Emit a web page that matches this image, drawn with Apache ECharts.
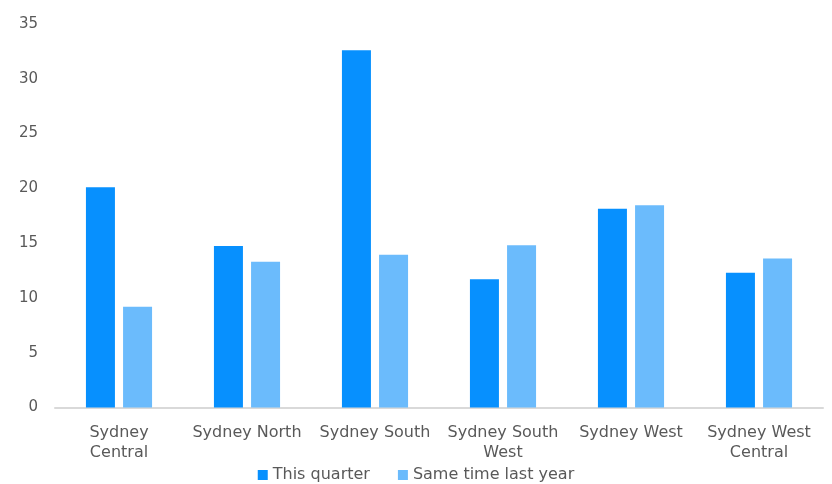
<!DOCTYPE html>
<html><head><meta charset="utf-8">
<script src="https://cdn.jsdelivr.net/npm/echarts@6/dist/echarts.min.js"></script>
<style>html,body{margin:0;padding:0;background:#fff}#c{width:832px;height:484px}</style>
</head><body><div id="c"></div>
<script>
const categories = ['Sydney Central','Sydney North','Sydney South','Sydney South West','Sydney West','Sydney West Central'];
const tickLabels = ['Sydney\nCentral','Sydney North','Sydney South','Sydney South\nWest','Sydney West','Sydney West\nCentral'];
const thisQuarter = [20.1, 14.75, 32.6, 11.7, 18.15, 12.3];
const lastYear = [9.2, 13.3, 13.95, 14.8, 18.45, 13.6];
const seriesNames = ['This quarter','Same time last year'];

const font = '"DejaVu Sans", sans-serif';
const chart = echarts.init(document.getElementById('c'), null, {renderer:'canvas'});
chart.setOption({
  animation:false,
  grid:{left:55,right:9,top:24,bottom:76.5,containLabel:false},
  legend:{top:462,left:'center',itemWidth:10,itemHeight:10,itemGap:28,itemStyle:{borderWidth:0},icon:'rect',
    textStyle:{color:'#595959',fontSize:16,fontFamily:font},data:seriesNames},
  xAxis:{type:'category',data:categories,
    axisLine:{lineStyle:{color:'#d9d9d9',width:2}},axisTick:{show:false},
    axisLabel:{color:'#595959',fontSize:16,fontFamily:font,lineHeight:20,margin:15,interval:0,
      formatter:(v,i)=>tickLabels[i]}},
  yAxis:{type:'value',min:0,max:35,interval:5,splitLine:{show:false},
    axisLabel:{color:'#595959',fontSize:15,fontFamily:font,margin:17}},
  series:[
    {name:seriesNames[0],type:'bar',data:thisQuarter,barWidth:29,barGap:'28%',itemStyle:{color:'#0790FE'}},
    {name:seriesNames[1],type:'bar',data:lastYear,barWidth:29,itemStyle:{color:'#6BBBFC'}}
  ]
});
</script></body></html>
